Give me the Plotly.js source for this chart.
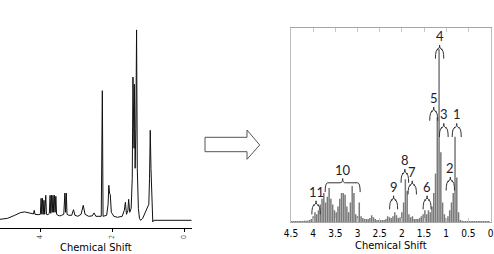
<!DOCTYPE html>
<html><head><meta charset="utf-8">
<script src="https://cdn.plot.ly/plotly-3.0.1.min.js"></script>
<style>html,body{margin:0;padding:0;background:#fff}#chart{width:494px;height:254px}</style>
</head><body><div id="chart"></div>
<script>
// Left panel: raw spectrum (chemical shift, intensity)
const spectrumShift = [5.11,4.9,4.7,4.55,4.43,4.3,4.18,4.16,4.14,4.05,3.99,3.97,3.95,3.93,3.91,3.89,3.87,3.84,3.82,3.78,3.74,3.72,3.70,3.68,3.66,3.64,3.62,3.60,3.58,3.56,3.54,3.50,3.45,3.40,3.34,3.31,3.29,3.27,3.25,3.20,3.12,3.07,3.03,2.95,2.86,2.80,2.75,2.65,2.55,2.50,2.45,2.30,2.27,2.25,2.15,2.11,2.09,2.07,2.05,2.02,1.95,1.85,1.72,1.66,1.63,1.60,1.56,1.54,1.51,1.47,1.44,1.42,1.41,1.40,1.39,1.38,1.36,1.34,1.32,1.30,1.27,1.24,1.21,1.15,1.10,1.07,1.04,1.01,0.98,0.96,0.94,0.92,0.89,0.87,0.84,0.5,0,-0.21];
const spectrumIntensity = [4.5,5,6.5,7.8,8.2,7.8,7.2,9,7,6.8,7,15,7,15,7,14,7,16.5,7,6.8,7.5,16.5,7.5,16.5,8,16.5,8,16.5,8,16,7,6.5,6.2,6.5,7,17.6,8,17.6,7,6.5,6.5,9.3,6.5,6,7,11.5,7,6,6.2,7.7,6,6,68.8,6,6.5,12,21.5,17.5,17,8,6,5.5,6,9,13,7,9,14.5,8,10,25,75.6,45,75,40,72,30,50,99.2,30,10,5,4,5,7,8,9,10,12,25,49,30,8,3.2,4,4,4,4];
const leftTickVals = [4, 2, 0];

// Right panel: binned spectrum, bins of 0.04 ppm starting at 4.48
const binStart = 4.48;
const binWidth = 0.04;
const binIntensity = [
  0.5,0.5,0.5,0.5,0.5,0.5,0.5,0.6,
  0.6,0.7,1,1.5,3,5,4,6,
  9,12,15,10,13,17.5,12,9,
  6,5,8,12,15,15,14,8,
  5,10,18.5,15,4,3,10,3,
  2,1.5,1.5,1.5,2,3.5,2.5,1.5,
  1,1,1,1,1,1.5,3,2.5,
  2,3,5,3.5,2,2.5,5,10,
  22,16,4,2.5,3,1.5,1.5,1.5,
  2,3,4,6,4,6,5,8,
  15,25,54,89,36,10,4,2,
  3,6,10,15,44,23,5,1,
  0.6,0.5,0.5,0.5,0.5,0.5,0.5,0.5,
  0.5,0.5,0.5,0.5,0.5,0.5,0.5,0.5
];
const rightTickVals = [4.5,4,3.5,3,2.5,2,1.5,1,0.5,0];
const rightTickText = ['4.5','4','3.5','3','2.5','2','1.5','1','0.5','0'];

// Region labels with bracket extents (ppm) and bracket level (intensity units)
const regionLabels = ['1','2','3','4','5','6','7','8','9','10','11'];
const regionFrom  = [0.864,1.00,1.152,1.242,1.371,1.52,1.86,2.018,2.276,3.73,4.03];
const regionTo    = [0.660,0.812,0.955,1.054,1.190,1.34,1.67,1.846,2.095,2.94,3.84];
const regionLevel = [48.6,21,48.6,89,57,11.3,19,25,11.3,20.2,8.7];

const NARROW = '"Liberation Sans Narrow", "DejaVu Sans Condensed", "Arial Narrow", sans-serif';
const py = y => 1 - y / 254;
const px = x => x / 494;

const drop = 4.8, apex = 2.2, curl = 0.06;
const shapes = [];
const annotations = [];
regionLabels.forEach((lab, i) => {
  const xl = regionFrom[i], xr = regionTo[i], yt = regionLevel[i];
  const xc = (xl + xr) / 2;
  const path = `M ${xl},${yt - drop} Q ${xl},${yt} ${xl - curl},${yt} L ${xc + curl},${yt} Q ${xc},${yt} ${xc},${yt + apex} Q ${xc},${yt} ${xc - curl},${yt} L ${xr + curl},${yt} Q ${xr},${yt} ${xr},${yt - drop}`;
  shapes.push({type:'path', xref:'x2', yref:'y2', path, line:{color:'#333', width:1}});
  annotations.push({xref:'x2', yref:'y2', x:xc, y:yt + apex, yanchor:'bottom', yshift:-1, text:lab, showarrow:false,
    font:{family:'Lato, "Open Sans", sans-serif', size:13, color:'#1c2230'}});
});

// Block arrow between the panels
const arrowPts = [[205,137.3],[247,137.3],[247,130],[259.7,145],[247,159.3],[247,151.7],[205,151.7]];
shapes.push({type:'path', xref:'paper', yref:'paper',
  path: 'M ' + arrowPts.map(p => px(p[0]) + ',' + py(p[1])).join(' L ') + ' Z',
  line:{color:'#555', width:1}, fillcolor:'#fff'});

const traces = [
  {type:'scatter', mode:'lines', x:spectrumShift, y:spectrumIntensity, xaxis:'x', yaxis:'y',
   line:{color:'#111', width:1}, hoverinfo:'skip'},
  {type:'bar', x0:binStart, dx:-binWidth, y:binIntensity, xaxis:'x2', yaxis:'y2',
   marker:{color:'#7a7a7a', line:{width:0}}, hoverinfo:'skip'}
];

const layout = {
  width:494, height:254, margin:{l:0,r:0,t:0,b:0}, showlegend:false,
  paper_bgcolor:'#fff', plot_bgcolor:'rgba(0,0,0,0)',
  font:{family:NARROW, size:11, color:'#000'},
  bargap:0.15,
  xaxis:{domain:[0, px(191.7)], range:[5.11,-0.21], showline:true, linecolor:'#000', linewidth:1,
    ticks:'outside', ticklen:3, tickcolor:'#000', tickvals:leftTickVals, tickangle:-90,
    tickfont:{size:7, color:'#555'}, showgrid:false, zeroline:false,
    title:{text:'Chemical Shift', font:{family:NARROW, size:11, color:'#000'}, standoff:5}},
  yaxis:{domain:[py(228.3), py(28.3)], range:[0,100], visible:false, fixedrange:true},
  xaxis2:{anchor:'y2', domain:[px(291), px(490.5)], range:[4.5,0], showline:true, mirror:'ticks',
    linecolor:'#a6a6a6', linewidth:1, ticks:'inside', ticklen:4, tickcolor:'#c8c8c8',
    tickvals:rightTickVals, ticktext:rightTickText, tickfont:{family:NARROW, size:10, color:'#000'},
    ticklabelstandoff:2, showgrid:false, zeroline:false,
    title:{text:'Chemical Shift', font:{family:NARROW, size:11, color:'#000'}, standoff:1}},
  yaxis2:{anchor:'x2', domain:[py(222), py(28)], range:[0,100], showline:true, mirror:true,
    linecolor:'#bdbdbd', linewidth:1, ticks:'', showticklabels:false, showgrid:false, zeroline:false},
  shapes, annotations
};

Plotly.newPlot('chart', traces, layout, {staticPlot:true, displayModeBar:false});
</script>
</body></html>
